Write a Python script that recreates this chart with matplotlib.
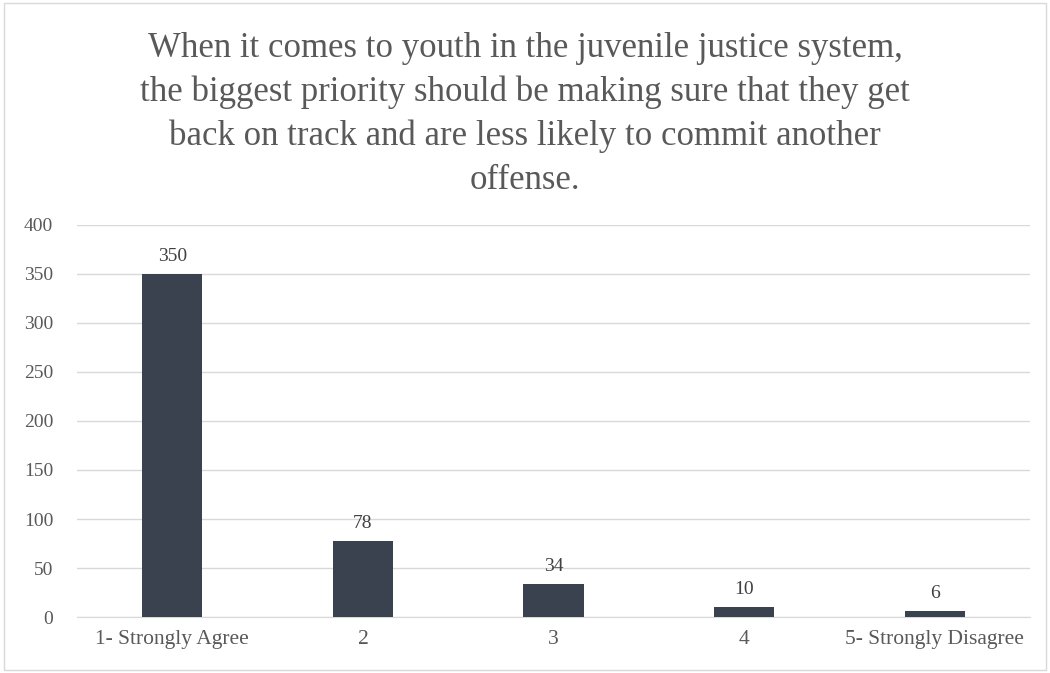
import matplotlib.pyplot as plt
from matplotlib.patches import Rectangle

categories = ["1- Strongly Agree", "2", "3", "4", "5- Strongly Disagree"]
counts = [350, 78, 34, 10, 6]
title = ("When it comes to youth in the juvenile justice system,\n"
         "the biggest priority should be making sure that they get\n"
         "back on track and are less likely to commit another\n"
         "offense.")

plt.rcParams['font.family'] = ['Liberation Serif', 'DejaVu Serif']

fig = plt.figure(figsize=(10.5, 6.73), dpi=100)
ax = fig.add_axes([0.0733, 0.0832, 0.9077, 0.5825])

x = range(len(categories))
bars = ax.bar(x, counts, width=0.315, color='#3a4250', zorder=3)
for b, v in zip(bars, counts):
    ax.text(b.get_x() + b.get_width() / 2, v + 9, str(v), ha='center', va='bottom',
            fontsize=14, color='#404040')

ax.set_xlim(-0.5, 4.5)
ax.set_ylim(0, 400)
ax.set_yticks(range(0, 401, 50))
ax.set_xticks(list(x))
ax.set_xticklabels(categories)
ax.grid(axis='y', color='#d9d9d9', linewidth=1, zorder=0)
for s in ['top', 'right', 'left']:
    ax.spines[s].set_visible(False)
ax.spines['bottom'].set_color('#d9d9d9')
ax.tick_params(axis='both', length=0, labelcolor='#595959')
ax.tick_params(axis='x', pad=9, labelsize=15.5)
ax.tick_params(axis='y', pad=17, labelsize=14)

fig.text(0.5, 0.953, title, ha='center', va='top', fontsize=25, color='#595959',
         linespacing=1.42)

fig.patches.append(Rectangle((0.004, 0.004), 0.992, 0.992, transform=fig.transFigure,
                             fill=False, edgecolor='#d9d9d9', linewidth=1))

fig.savefig('out.png', dpi=100)
